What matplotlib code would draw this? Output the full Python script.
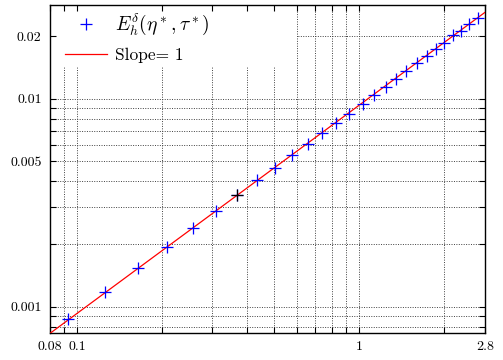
import matplotlib
matplotlib.use("Agg")
import matplotlib.pyplot as plt
from matplotlib.patches import Rectangle
from matplotlib.ticker import FixedLocator, FixedFormatter, NullLocator

plt.rcParams["font.family"] = ["cmr10", "DejaVu Serif"]
plt.rcParams["mathtext.fontset"] = "cm"
plt.rcParams["axes.unicode_minus"] = False

# Error E_h^delta(eta*, tau*) against h
h_values = [0.0925, 0.1257, 0.1646, 0.2076, 0.2567, 0.3105, 0.3696, 0.433,
            0.503, 0.578, 0.658, 0.740, 0.830, 0.921, 1.029, 1.132, 1.242,
            1.348, 1.463, 1.600, 1.737, 1.869, 2.005, 2.158, 2.298, 2.459, 2.634]
err_values = [0.000873, 0.001173, 0.00153, 0.00193, 0.00238, 0.00289, 0.00343,
              0.00407, 0.00466, 0.00535, 0.00606, 0.00685, 0.00767, 0.00848,
              0.00947, 0.01043, 0.01139, 0.01249, 0.01365, 0.01481, 0.01611,
              0.0173, 0.01849, 0.0202, 0.02125, 0.02289, 0.02438]
highlight_index = 6

# Reference line of slope 1: err = slope_coef * h
slope_coef = 0.0093
line_h = [0.08, 2.8]

x_grid = [0.09, 0.1, 0.2, 0.3, 0.4, 0.5, 0.6, 0.7, 0.8, 0.9, 1.0, 2.0]
y_grid = [0.0008, 0.0009, 0.001, 0.002, 0.003, 0.004, 0.005, 0.006, 0.007,
          0.008, 0.009, 0.01, 0.02]
x_ticklabels = {0.08: "0.08", 0.1: "0.1", 1.0: "1", 2.8: "2.8"}
y_ticklabels = {0.001: "0.001", 0.005: "0.005", 0.01: "0.01", 0.02: "0.02"}

fig = plt.figure(figsize=(5.03, 3.60), dpi=100)
ax = fig.add_axes([50 / 503, 27 / 360, 435 / 503, 328.5 / 360])
ax.set_xscale("log")
ax.set_yscale("log")
ax.set_xlim(0.08, 2.8)
ax.set_ylim(0.000747, 0.0284)

grid_style = dict(color="0.25", lw=0.7, ls=(0, (1, 1.5)), zorder=0.5)
for gx in x_grid:
    ax.axvline(gx, **grid_style)
for gy in y_grid:
    ax.axhline(gy, **grid_style)

# blank area behind the key
ax.add_patch(Rectangle((0, 0.811), 0.568, 0.2, transform=ax.transAxes,
                       facecolor="white", edgecolor="none", zorder=1))

ax.plot(line_h, [slope_coef * v for v in line_h], color="red", lw=0.9,
        zorder=3, label="Slope= 1")
ax.plot(h_values, err_values, ls="none", marker="+", ms=8, mew=0.9,
        color="blue", zorder=4, label=r"$E_h^{\delta}(\eta^*,\tau^*)$")
ax.plot([h_values[highlight_index]], [err_values[highlight_index]], ls="none",
        marker="+", ms=8, mew=0.9, color="black", zorder=5)

xt = sorted(set(x_grid) | set(x_ticklabels))
yt = sorted(set(y_grid) | set(y_ticklabels))
ax.xaxis.set_major_locator(FixedLocator(xt))
ax.xaxis.set_major_formatter(FixedFormatter([x_ticklabels.get(v, "") for v in xt]))
ax.xaxis.set_minor_locator(NullLocator())
ax.yaxis.set_major_locator(FixedLocator(yt))
ax.yaxis.set_major_formatter(FixedFormatter([y_ticklabels.get(v, "") for v in yt]))
ax.yaxis.set_minor_locator(NullLocator())
ax.tick_params(which="both", direction="in", top=True, right=True, length=4,
               width=0.8, labelsize=10, pad=6, colors="black")
ax.set_axisbelow(False)
for s in ax.spines.values():
    s.set_linewidth(1.0)

handles, labels = ax.get_legend_handles_labels()
leg = ax.legend(handles[::-1], labels[::-1], loc="upper left",
                bbox_to_anchor=(0.018, 1.0), frameon=False, fontsize=12.5,
                handlelength=2.45, handletextpad=0.45, labelspacing=0.62,
                borderaxespad=0.0)
leg.get_texts()[0].set_fontsize(14)

fig.savefig("out.png", dpi=100)
